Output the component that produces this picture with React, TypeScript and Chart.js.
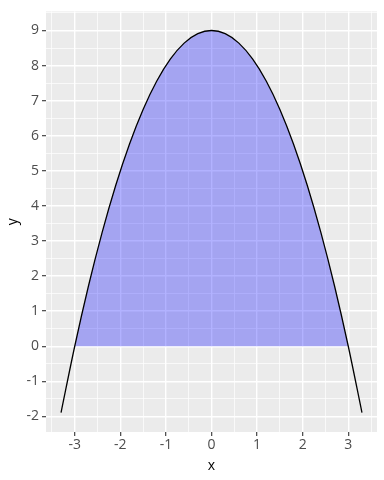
import { useEffect, useRef } from 'react';
import { Chart, registerables } from 'chart.js';

Chart.register(...registerables);

// Curve y = f(x)
const curveX = [-3.3, -3.0, -2.7, -2.4, -2.1, -1.8, -1.5, -1.2, -0.9, -0.6, -0.3, 0, 0.3, 0.6, 0.9, 1.2, 1.5, 1.8, 2.1, 2.4, 2.7, 3.0, 3.3];
const curveY = [-1.89, 0, 1.71, 3.24, 4.59, 5.76, 6.75, 7.56, 8.19, 8.64, 8.91, 9, 8.91, 8.64, 8.19, 7.56, 6.75, 5.76, 4.59, 3.24, 1.71, 0, -1.89];
// Shaded area between x = -3 and x = 3
const areaX = [-3.0, -2.7, -2.4, -2.1, -1.8, -1.5, -1.2, -0.9, -0.6, -0.3, 0, 0.3, 0.6, 0.9, 1.2, 1.5, 1.8, 2.1, 2.4, 2.7, 3.0];
const areaY = [0, 1.71, 3.24, 4.59, 5.76, 6.75, 7.56, 8.19, 8.64, 8.91, 9, 8.91, 8.64, 8.19, 7.56, 6.75, 5.76, 4.59, 3.24, 1.71, 0];

const xMajorTicks = [-3, -2, -1, 0, 1, 2, 3];
const xMinorTicks = [-3.5, -2.5, -1.5, -0.5, 0.5, 1.5, 2.5, 3.5];
const yMajorTicks = [-2, -1, 0, 1, 2, 3, 4, 5, 6, 7, 8, 9];
const yMinorTicks = [-1.5, -0.5, 0.5, 1.5, 2.5, 3.5, 4.5, 5.5, 6.5, 7.5, 8.5, 9.5];
const xLimits = [-3.63, 3.63];
const yLimits = [-2.4445, 9.5445];
const xTitle = 'x';
const yTitle = 'y';

const FONT = '"Open Sans", "DejaVu Sans", sans-serif';

const panelBg = {
  id: 'panelBg',
  beforeDraw(chart: any) {
    const { ctx, chartArea } = chart;
    ctx.save();
    ctx.fillStyle = '#EBEBEB';
    ctx.fillRect(chartArea.left, chartArea.top, chartArea.right - chartArea.left, chartArea.bottom - chartArea.top);
    ctx.restore();
  },
};

const isMajor = (list: number[], v: number) => list.some((m) => Math.abs(m - v) < 1e-9);

function gridFor(major: number[]) {
  return {
    color: '#FFFFFF',
    lineWidth: (c: any) => (c.tick && isMajor(major, c.tick.value) ? 1.4 : 0.7),
    tickColor: (c: any) => (c.tick && isMajor(major, c.tick.value) ? '#333333' : 'rgba(0,0,0,0)'),
    tickWidth: 1.1,
    tickLength: 4,
    drawTicks: true,
    drawOnChartArea: true,
  };
}

export default function App() {
  const ref = useRef<HTMLCanvasElement | null>(null);

  useEffect(() => {
    if (!ref.current) return;
    const chart = new Chart(ref.current, {
      type: 'line',
      data: {
        datasets: [
          {
            data: curveX.map((x, i) => ({ x, y: curveY[i] })),
            borderColor: '#000000',
            borderWidth: 1.3,
            pointRadius: 0,
            fill: false,
            cubicInterpolationMode: 'monotone',
          },
          {
            data: areaX.map((x, i) => ({ x, y: areaY[i] })),
            borderWidth: 0,
            borderColor: 'rgba(0,0,0,0)',
            backgroundColor: 'rgba(0,0,255,0.3)',
            pointRadius: 0,
            fill: 'origin',
            cubicInterpolationMode: 'monotone',
          },
        ],
      },
      options: {
        animation: false,
        responsive: false,
        maintainAspectRatio: false,
        layout: { padding: { left: 0, top: 7, right: 7, bottom: 0 } },
        plugins: { legend: { display: false }, tooltip: { enabled: false } },
        scales: {
          x: {
            type: 'linear',
            min: xLimits[0],
            max: xLimits[1],
            border: { display: false },
            grid: gridFor(xMajorTicks) as any,
            afterBuildTicks: (s: any) => {
              s.ticks = [...xMajorTicks, ...xMinorTicks].sort((a, b) => a - b).map((v) => ({ value: v }));
            },
            afterFit: (s: any) => {
              s.height = 48;
            },
            ticks: {
              autoSkip: false,
              maxRotation: 0,
              padding: 1,
              color: '#4D4D4D',
              font: { family: FONT, size: 14 },
              callback: (v: any) => (isMajor(xMajorTicks, Number(v)) ? String(v) : ''),
            },
            title: {
              display: true,
              text: xTitle,
              color: '#000000',
              font: { family: FONT, size: 14 },
              padding: { top: 0, bottom: 6 },
            },
          },
          y: {
            type: 'linear',
            min: yLimits[0],
            max: yLimits[1],
            border: { display: false },
            grid: gridFor(yMajorTicks) as any,
            afterBuildTicks: (s: any) => {
              s.ticks = [...yMajorTicks, ...yMinorTicks].sort((a, b) => a - b).map((v) => ({ value: v }));
            },
            afterFit: (s: any) => {
              s.width = 46;
            },
            ticks: {
              autoSkip: false,
              padding: 3,
              color: '#4D4D4D',
              font: { family: FONT, size: 14 },
              callback: (v: any) => (isMajor(yMajorTicks, Number(v)) ? String(v) : ''),
            },
            title: {
              display: true,
              text: yTitle,
              color: '#000000',
              font: { family: FONT, size: 14 },
              padding: { top: 5, bottom: 0 },
            },
          },
        },
      },
      plugins: [panelBg],
    } as any);
    return () => chart.destroy();
  }, []);

  return (
    <div style={{ position: 'fixed', left: 0, top: 0, width: 384, height: 480, background: '#FFFFFF' }}>
      <canvas ref={ref} width={384} height={480} style={{ width: 384, height: 480 }} />
    </div>
  );
}
